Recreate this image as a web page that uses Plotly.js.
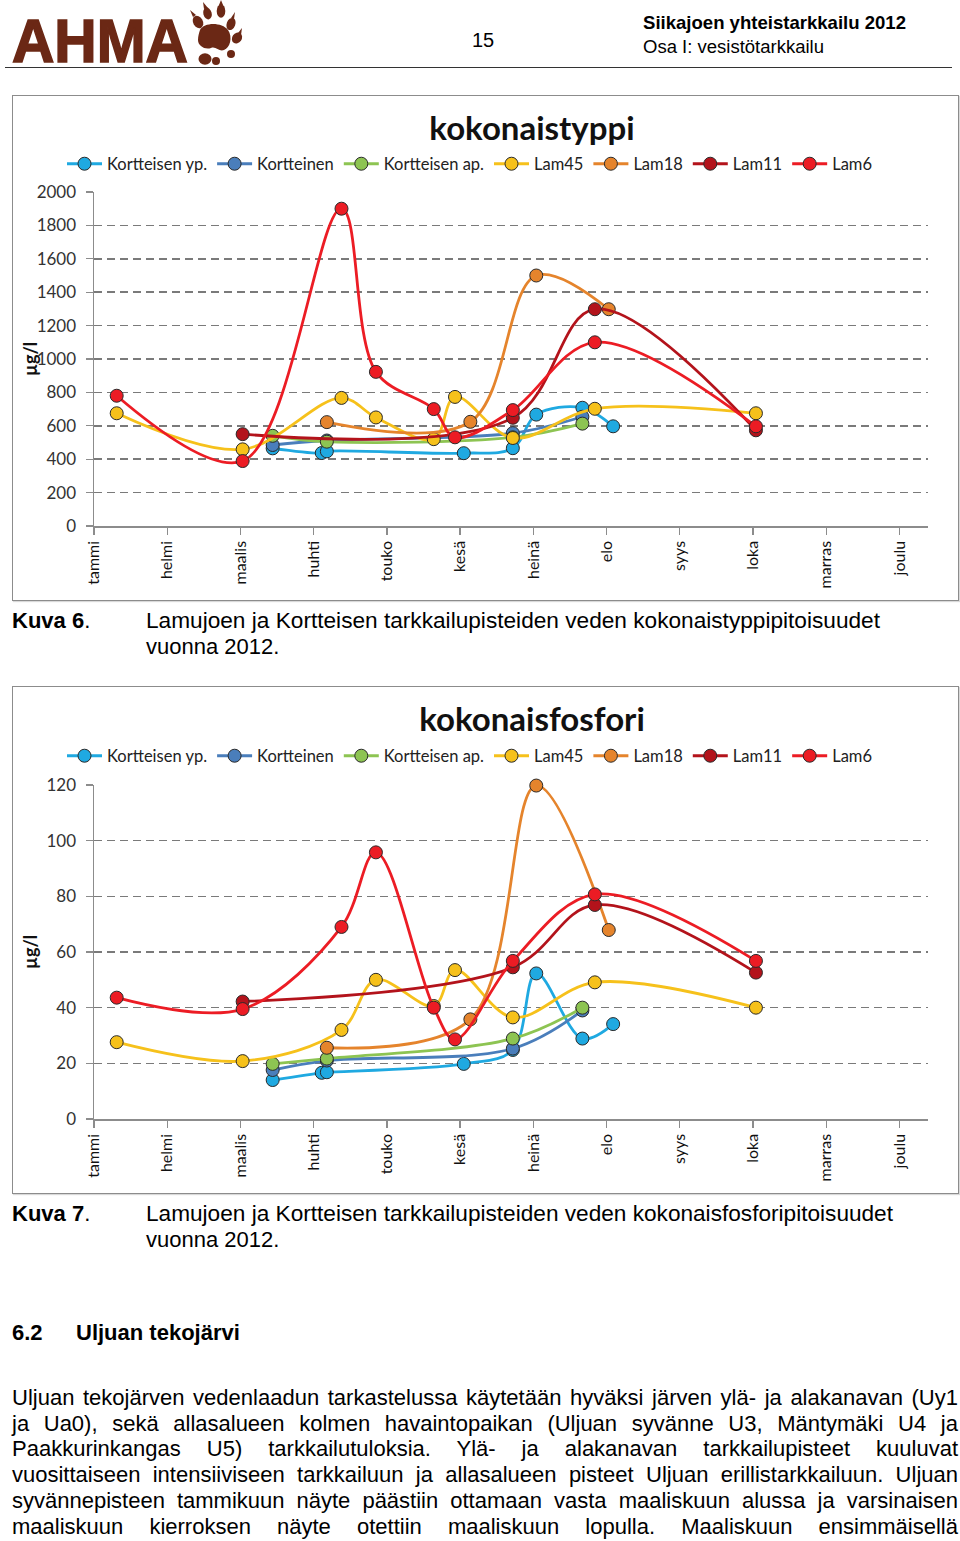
<!DOCTYPE html>
<html>
<head>
<meta charset="utf-8">
<script src="https://cdn.plot.ly/plotly-3.0.1.min.js"></script>
<style>
  html, body { margin:0; padding:0; background:#fff; }
  body { width:960px; height:1541px; position:relative; overflow:hidden; font-family:'Liberation Sans', Arial, sans-serif; color:#000; }
  .ln { position:absolute; white-space:nowrap; font-size:22px; line-height:26px; }
  .chart { position:absolute; left:12px; width:947px; }
  .frame { position:absolute; left:12px; width:947px; border:1.5px solid #8c8c8c; box-sizing:border-box; pointer-events:none; box-shadow:1px 1px 1px rgba(0,0,0,0.15); }
</style>
</head>
<body>
<script>
// ---------------- DATA ----------------
const months = ['tammi','helmi','maalis','huhti','touko','kesä','heinä','elo','syys','loka','marras','joulu'];
const monthPos = [0,1,2,3,4,5,6,7,8,9,10,11];
const seriesNames = ['Kortteisen yp.','Kortteinen','Kortteisen ap.','Lam45','Lam18','Lam11','Lam6'];
const seriesColors = ['#1FA9E1','#4A7EBB','#8DC452','#F6C11B','#E5842C','#B3131B','#EC1C24'];

// sampling times (month position, 0 = 1 Jan)
const xKortYp  = [2.44, 3.11, 3.18, 5.05, 5.72, 6.04, 6.67, 7.09];
const xKort    = [2.44, 3.18, 5.72, 6.67];
const xKortAp  = [2.44, 3.18, 5.72, 6.67];
const xLam45   = [0.31, 2.03, 3.38, 3.85, 4.64, 4.93, 5.72, 6.84, 9.04];
const xLam18   = [3.18, 5.14, 6.04, 7.03];
const xLam11   = [2.03, 5.72, 6.84, 9.04];
const xLam6    = [0.31, 2.03, 3.38, 3.85, 4.64, 4.93, 5.72, 6.84, 9.04];

// kokonaistyppi (µg/l)
const nKortYp  = [465, 437, 447, 436, 466, 667, 708, 597];
const nKort    = [485, 512, 556, 654];
const nKortAp  = [540, 505, 531, 613];
const nLam45   = [675, 459, 767, 650, 520, 773, 527, 702, 675];
const nLam18   = [622, 624, 1500, 1298];
const nLam11   = [550, 648, 1298, 573];
const nLam6    = [780, 389, 1900, 923, 700, 531, 694, 1100, 597];

// kokonaisfosfori (µg/l)
const pKortYp  = [14.0, 16.6, 16.8, 19.8, 24.8, 52.3, 28.9, 34.1];
const pKort    = [17.6, 21.0, 25.3, 39.0];
const pKortAp  = [19.8, 21.7, 28.9, 40.0];
const pLam45   = [27.6, 20.8, 32.0, 50.0, 40.6, 53.5, 36.5, 49.1, 40.0];
const pLam18   = [25.6, 35.8, 119.8, 67.9];
const pLam11   = [42.2, 54.5, 76.9, 52.6];
const pLam6    = [43.6, 39.5, 69.0, 95.8, 40.0, 28.6, 56.8, 80.7, 56.8];
</script>

<!-- header -->
<div class="ln fit" data-w="176" style="left:12px;top:6px;font-size:61px;line-height:70px;font-weight:bold;color:#6B2815;-webkit-text-stroke:1.6px #6B2815;">AHMA</div>
<svg style="position:absolute;left:186px;top:0px;" width="60" height="70" viewBox="186 0 60 70">
  <g fill="#6B2815">
    <path d="M200,30 C204,22 222,22 228,30 C233,37 230,48 224,50 C219,52 216,46 211,48 C205,50 198,46 198,40 C198,36 199,33 200,30 Z"/>
    <ellipse cx="198" cy="22" rx="4.8" ry="6.5" transform="rotate(-30 198 22)"/>
    <path d="M193,17 L190,10 L196,15 Z"/>
    <ellipse cx="207.5" cy="13.5" rx="4.2" ry="6" transform="rotate(-15 207.5 13.5)"/>
    <path d="M204,9 L203,2 L208,8 Z"/>
    <ellipse cx="221" cy="11" rx="4.3" ry="6.8"/>
    <path d="M219,5 L221,0 L223,5 Z"/>
    <ellipse cx="231" cy="24" rx="4.3" ry="6.3" transform="rotate(20 231 24)"/>
    <path d="M231,18 L235,12 L234,19 Z"/>
    <ellipse cx="237" cy="38" rx="4.8" ry="5.8" transform="rotate(35 237 38)"/>
    <path d="M238,33 L242,28 L241,35 Z"/>
    <ellipse cx="205" cy="59" rx="6.5" ry="5.8"/>
    <ellipse cx="216" cy="61" rx="4" ry="4"/>
    <ellipse cx="231" cy="54" rx="4" ry="4"/>
  </g>
</svg>
<div class="ln" style="left:472px;top:28px;font-size:20px;line-height:24px;">15</div>
<div class="ln fit" data-w="263" style="left:643px;top:12px;font-size:18.5px;line-height:22px;font-weight:bold;">Siikajoen yhteistarkkailu 2012</div>
<div class="ln fit" data-w="181" style="left:643px;top:36px;font-size:17.5px;line-height:22px;">Osa I: vesistötarkkailu</div>
<div style="position:absolute;left:5px;top:67px;width:947px;height:1.3px;background:#333;"></div>

<!-- charts -->
<div id="c1" class="chart" style="top:95px;height:506px;"></div>
<div class="frame" style="top:95px;height:506px;"></div>
<div id="c2" class="chart" style="top:686px;height:508px;"></div>
<div class="frame" style="top:686px;height:508px;"></div>

<!-- captions -->
<div class="ln" style="left:12px;top:608px;"><b>Kuva 6</b>.</div>
<div class="ln fit" data-w="734" style="left:146px;top:608px;">Lamujoen ja Kortteisen tarkkailupisteiden veden kokonaistyppipitoisuudet</div>
<div class="ln" style="left:146px;top:634px;">vuonna 2012.</div>

<div class="ln" style="left:12px;top:1201px;"><b>Kuva 7</b>.</div>
<div class="ln fit" data-w="747" style="left:146px;top:1201px;">Lamujoen ja Kortteisen tarkkailupisteiden veden kokonaisfosforipitoisuudet</div>
<div class="ln" style="left:146px;top:1227px;">vuonna 2012.</div>

<div class="ln" style="left:12px;top:1320px;font-weight:bold;">6.2</div>
<div class="ln" style="left:76px;top:1320px;font-weight:bold;">Uljuan tekojärvi</div>

<div class="ln just" data-w="946" style="left:12px;top:1385px;">Uljuan tekojärven vedenlaadun tarkastelussa käytetään hyväksi järven ylä- ja alakanavan (Uy1</div>
<div class="ln just" data-w="946" style="left:12px;top:1411px;">ja Ua0), sekä allasalueen kolmen havaintopaikan (Uljuan syvänne U3, Mäntymäki U4 ja</div>
<div class="ln just" data-w="946" style="left:12px;top:1436px;">Paakkurinkangas U5) tarkkailutuloksia. Ylä- ja alakanavan tarkkailupisteet kuuluvat</div>
<div class="ln just" data-w="946" style="left:12px;top:1462px;">vuosittaiseen intensiiviseen tarkkailuun ja allasalueen pisteet Uljuan erillistarkkailuun. Uljuan</div>
<div class="ln just" data-w="946" style="left:12px;top:1488px;">syvännepisteen tammikuun näyte päästiin ottamaan vasta maaliskuun alussa ja varsinaisen</div>
<div class="ln just" data-w="946" style="left:12px;top:1514px;">maaliskuun kierroksen näyte otettiin maaliskuun lopulla. Maaliskuun ensimmäisellä</div>

<script>
// ---------- text fitting ----------
document.querySelectorAll('.fit').forEach(el => {
  const w = +el.dataset.w;
  const nat = el.getBoundingClientRect().width;
  el.style.transformOrigin = '0 0';
  el.style.transform = 'scaleX(' + (w / nat) + ')';
});
document.querySelectorAll('.just').forEach(el => {
  const w = +el.dataset.w;
  const nat = el.getBoundingClientRect().width;
  const spaces = (el.textContent.match(/ /g) || []).length;
  if (nat <= w) {
    el.style.wordSpacing = ((w - nat) / spaces) + 'px';
  } else {
    el.style.transformOrigin = '0 0';
    el.style.transform = 'scaleX(' + (w / nat) + ')';
  }
});

// ---------- charts ----------
const xs = [xKortYp, xKort, xKortAp, xLam45, xLam18, xLam11, xLam6];
const ysN = [nKortYp, nKort, nKortAp, nLam45, nLam18, nLam11, nLam6];
const ysP = [pKortYp, pKort, pKortAp, pLam45, pLam18, pLam11, pLam6];

function makeTraces(ys) {
  return seriesNames.map((name, i) => ({
    type: 'scatter', mode: 'lines+markers', name: name,
    x: xs[i], y: ys[i],
    line: { color: seriesColors[i], width: 2.8, shape: 'spline', smoothing: 1 },
    marker: { color: seriesColors[i], size: 13, line: { color: '#2a2a2a', width: 1 } },
    cliponaxis: false
  }));
}

function makeLayout(title, height, top, bottom, ymax, dtick, titleY, legY) {
  return {
    width: 947, height: height,
    margin: { l: 82, r: 31, t: top, b: bottom },
    paper_bgcolor: '#ffffff', plot_bgcolor: '#ffffff',
    font: { family: 'Lato, "Open Sans", sans-serif', color: '#222' },
    title: { text: '<b>' + title + '</b>', font: { size: 33, color: '#111' },
             x: (532 - 12) / 947, xref: 'container', xanchor: 'center',
             y: titleY, yref: 'container', yanchor: 'middle' },
    showlegend: true,
    legend: { orientation: 'h', xref: 'container', x: (62 - 12) / 947, xanchor: 'left',
              yref: 'container', y: legY, yanchor: 'middle', itemwidth: 35,
              font: { size: 16.5, color: '#222' }, bgcolor: 'rgba(0,0,0,0)' },
    xaxis: { range: [0, 11.39], tickmode: 'array', tickvals: monthPos, ticktext: months,
             tickangle: -90, ticks: 'outside', ticklen: 7, tickcolor: '#8c8c8c', tickwidth: 1.3,
             showline: true, linecolor: '#8c8c8c', linewidth: 1.5, showgrid: false, zeroline: false,
             tickfont: { size: 16, color: '#111' } },
    yaxis: { range: [0, ymax], dtick: dtick, tick0: 0, showgrid: true, gridcolor: '#7a7a7a',
             griddash: '8px,5px', gridwidth: 1.5, showline: true, linecolor: '#8c8c8c', linewidth: 1.5,
             ticks: 'outside', ticklen: 7, tickcolor: '#8c8c8c', tickwidth: 1.3, zeroline: false,
             ticklabelstandoff: 6, tickfont: { size: 17, color: '#333' } },
    annotations: [{ text: '<b>µg/l</b>', textangle: -90, xref: 'paper', yref: 'paper',
                    x: (30 - 94) / 834, y: 0.5, xanchor: 'center', yanchor: 'middle',
                    showarrow: false, font: { size: 18, color: '#111' } }]
  };
}

const cfg = { staticPlot: true, displayModeBar: false };
Plotly.newPlot('c1', makeTraces(ysN),
  makeLayout('kokonaistyppi', 506, 97, 75, 2000, 200, 1 - (128 - 95) / 506, 1 - (164 - 95) / 506), cfg);
Plotly.newPlot('c2', makeTraces(ysP),
  makeLayout('kokonaisfosfori', 508, 99, 75, 120, 20, 1 - (719 - 686) / 508, 1 - (756 - 686) / 508), cfg);
</script>
</body>
</html>
